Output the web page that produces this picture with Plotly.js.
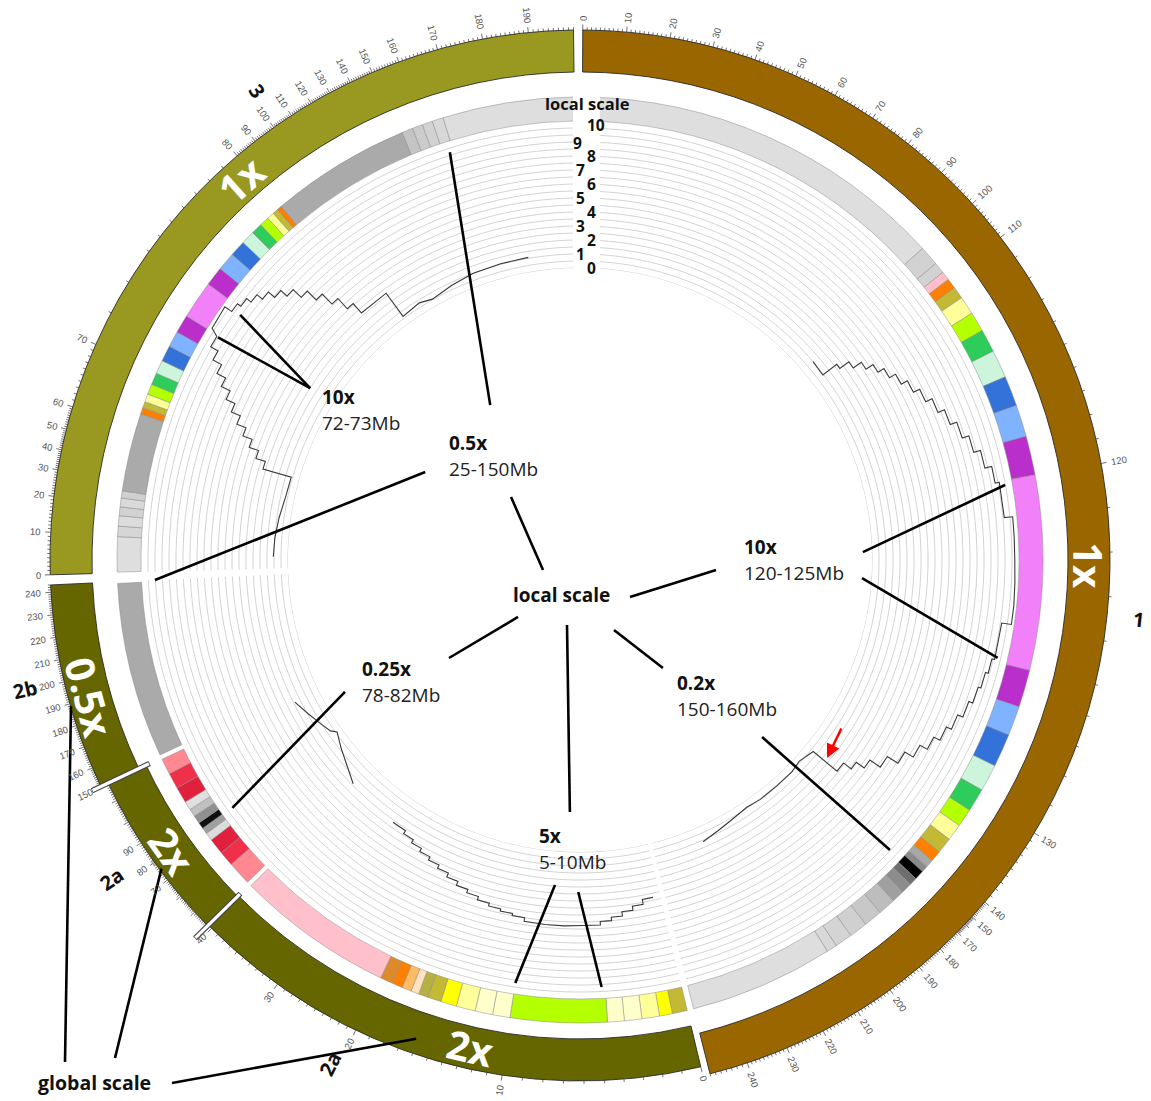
<!DOCTYPE html>
<html><head><meta charset="utf-8">
<script src="https://cdn.plot.ly/plotly-3.0.1.min.js"></script>
<style>html,body{margin:0;padding:0;background:#fff;}#chart{width:1151px;height:1101px;}</style>
</head><body><div id="chart"></div>
<script>
// ======================= DATA =======================
// Ideograms (angles in degrees, clockwise from top)
const ideoNames      = ['1', '2a', '2a', '2b', '3'];
const ideoStartDeg   = [0.3, 166.6, 225.5, 244.7, 268.4];
const ideoEndDeg     = [165.8, 225.5, 244.7, 267.3, 359.3];
const ideoColors     = ['#996600', '#666600', '#666600', '#666600', '#999922'];
const globalScaleTxt = ['1x', '2x', '2x', '0.5x', '1x'];
const globalScaleDeg = [90.6, 192.7, 234.6, 254.5, 318.3];
const breakDeg       = [225.5, 244.7];

// chromosome name labels
const chromLabelText = ['1', '3', '2b', '2a', '2a'];
const chromLabelDeg  = [96.1, 325.5, 256.9, 235.7, 206.4];

// Mb -> angle knots per ideogram (global + local scale)
const chr1Mb  = [0, 110, 120, 125, 130, 140, 150, 160, 170, 180, 190, 200, 210, 220, 230, 240, 247];
const chr1Deg = [0.3, 52.5, 79.5, 103.6, 121.0, 130.2, 132.3, 133.4, 134.6, 137.2, 140.2, 144.2, 148.4, 152.7, 157.0, 161.6, 165.8];
const chr2aAMb  = [0, 5, 10, 20, 30, 40, 41];
const chr2aADeg = [166.6, 177.3, 188.6, 205.5, 215.5, 225.0, 225.5];
const chr2aBMb  = [41, 70, 78, 82, 90, 118];
const chr2aBDeg = [225.5, 232.2, 234.3, 234.9, 237.2, 244.7];
const chr2bMb   = [150, 160, 240, 243];
const chr2bDeg  = [244.7, 246.9, 266.5, 267.3];
const chr3Mb  = [0, 10, 20, 30, 40, 50, 60, 70, 72, 73, 80, 90, 100, 110, 120, 130, 140, 150, 160, 170, 180, 190, 199];
const chr3Deg = [268.4, 273.0, 276.9, 279.8, 282.0, 284.3, 286.8, 294.0, 301.6, 305.6, 319.7, 322.2, 324.7, 327.0, 329.5, 331.8, 334.3, 336.9, 340.0, 344.4, 349.4, 354.4, 359.3];

// labelled ticks (Mb)
const chr1TickLabels  = [0,10,20,30,40,50,60,70,80,90,100,110,120,130,140,150,170,180,190,200,210,220,230,240];
const chr2aATickLabels = [0,10,20,30,40];
const chr2aBTickLabels = [70,80,90];
const chr2bTickLabels  = [150,160,170,180,190,200,210,220,230,240];
const chr3TickLabels  = [0,10,20,30,40,50,60,70,80,90,100,110,120,130,140,150,160,170,180,190];

// cytoband ring: edges (deg) and colours per ideogram
const chr1BandEdges = [0.3,47.7,50.2,51.6,52.7,54.0,55.5,57.8,60.3,63.2,66.7,70.5,74.5,79.4,103.8,108.5,112.2,116.4,119.8,122.7,125.0,127.1,129.1,130.5,131.5,132.3,133.5,134.5,135.8,137.4,139.6,141.9,144.2,146.4,147.7,165.8];
const chr1BandColors = ['#dedede','#d2d2d2','#d2d2d2','#ffc0cb','#ff8000','#c4b935','#ffff99','#b4ff00','#2ecc5a','#ccf5dc','#3272d9','#80b3ff','#ba2fcc','#f280f8','#ba2fcc','#80b3ff','#3272d9','#ccf5dc','#2ecc5a','#b4ff00','#ffff99','#c4b935','#ff8000','#a8a8a8','#8a8a8a','#000000','#6e6e6e','#8c8c8c','#a0a0a0','#bdbdbd','#c8c8c8','#d0d0d0','#d4d4d4','#d8d8d8','#dedede'];
const chr2aABandEdges = [166.6,168.5,170.1,172.3,174.5,176.6,188.7,190.9,193.1,195.5,197.5,199.2,200.4,201.4,202.6,204.0,205.5,225.3];
const chr2aABandColors = ['#c4b935','#ffff00','#ffff99','#ffffcc','#ffffcc','#b4ff00','#ffffcc','#ffffcc','#ffff99','#ffff00','#c4b935','#b8b040','#ffe2c0','#ffbb66','#ff8000','#dd8a2a','#ffc0cb'];
const chr2aBBandEdges = [225.9,228.9,230.8,232.8,233.8,234.6,235.4,236.4,237.4,238.5,240.5,242.5,244.5];
const chr2aBBandColors = ['#ff8891','#f0304a','#e0203c','#dcdcdc','#a0a0a0','#101010','#909090','#c0c0c0','#e0e0e0','#e0203c','#f0304a','#ff8891'];
const chr2bBandEdges = [245.1, 267.1];
const chr2bBandColors = ['#aaaaaa'];
const chr3BandEdges = [268.5,272.9,274.2,275.5,276.6,277.7,278.6,288.4,289.2,290.0,291.0,292.3,293.8,295.5,297.5,299.5,301.8,306.6,309.0,311.3,313.3,315.0,316.4,317.6,318.5,319.2,319.8,337.4,338.8,340.1,341.4,342.8,359.2];
const chr3BandColors = ['#dedede','#d6d6d6','#dcdcdc','#d2d2d2','#dadada','#cfcfcf','#aaaaaa','#ff8000','#c4b935','#ffff99','#b4ff00','#2ecc5a','#ccf5dc','#3272d9','#80b3ff','#ba2fcc','#f280f8','#ba2fcc','#80b3ff','#3272d9','#ccf5dc','#2ecc5a','#b4ff00','#ffff99','#c4b935','#ff8000','#aaaaaa','#c4c4c4','#cccccc','#d2d2d2','#d8d8d8','#dedede'];

// local-scale track (value 0..10)
const trackLevels = [0,0.5,1,1.5,2,2.5,3,3.5,4,4.5,5,5.5,6,6.5,7,7.5,8,8.5,9,9.5,10];
const trackLabels = [0,1,2,3,4,5,6,7,8,9,10];

// chr3 local-scale line
const l3SmoothTheta = [270.6, 274.0, 278.0, 282.0, 286.0];
const l3SmoothVal   = [1.05, 1.0, 0.85, 0.65, 0.6];
const l3UpAngles = [286.0,287.4,288.8,290.2,291.6,293.0,294.4,295.8,297.2,298.6,300.0,301.6];
const l3UpVals   = [2.7,3.4,4.1,4.8,5.5,6.2,6.9,7.6,8.3,9.0,9.6];
const l3PeakTheta = [302.2, 305.5];
const l3PeakVal   = [10.2, 10.3];
const l3DownAngles = [305.5,306.8,308.1,309.4,310.7,312.0,313.3,314.6,315.9,317.2,318.5,324.0];
const l3DownVals   = [9.7,9.4,9.0,8.5,7.9,7.3,6.5,5.6,4.6,3.6,2.7];
const l3TailTheta = [324.0, 328.0, 330.5, 335.0, 339.6, 345.0, 350.3];
const l3TailVal   = [0.65, 0.8, 0.55, 0.8, 1.0, 1.05, 1.07];

// chr1 local-scale line
const l1StartTheta = [49.6, 52.7];
const l1StartVal   = [1.0, 0.95];
const l1UpAngles = [52.7,53.6,54.9,56.3,57.8,59.5,61.3,63.3,65.4,67.6,69.9,72.3,74.7,77.2,79.5,84.3];
const l1UpVals   = [2.2,3.0,3.7,4.3,4.8,5.3,5.8,6.3,6.8,7.3,7.8,8.3,8.8,9.3,9.6];
const l1PlateauTheta = [84.3, 87.0, 90.0, 93.0, 96.0, 98.5];
const l1PlateauVal   = [10.2, 10.2, 10.2, 10.25, 10.3, 10.3];
const l1DownAngles = [98.5,103.5,105.5,107.7,110.0,112.3,114.5,116.6,118.6,120.6,122.6,124.6,126.2,127.6,129.4];
const l1DownVals   = [9.6,9.4,9.2,9.0,8.7,8.3,7.9,7.4,6.8,6.1,5.2,4.3,3.6,2.9];
const l1TailTheta = [129.4, 132.5, 135.0, 139.0, 143.0, 146.0, 150.0, 153.0, 156.4];
const l1TailVal   = [0.7, 0.4, 0.55, 0.55, 0.55, 0.45, 0.65, 0.85, 1.1];

// chr2a (first part) local-scale line
const l2aUpAngles = [167.8,169.6,171.4,173.2,175.0,176.8];
const l2aUpVals   = [3.8,4.15,4.45,4.75,5.0];
const l2aPlateauTheta = [176.8, 179.5, 182.5, 185.5, 188.8];
const l2aPlateauVal   = [5.25, 5.25, 5.3, 5.3, 5.25];
const l2aDownAngles = [188.8,190.8,192.8,194.8,196.8,198.8,200.8,202.8,204.8,206.8,208.8,210.8,212.8,215.5];
const l2aDownVals   = [5.0,4.85,4.7,4.5,4.25,4.0,3.7,3.4,3.15,2.9,2.65,2.4,2.15];

// chr2a (second part) local-scale line
const l2bTheta = [225.4, 228.5, 231.8, 234.7, 235.6, 237.9, 240.5, 243.5];
const l2bVal   = [1.9, 1.35, 0.86, 0.4, 0.75, 1.07, 1.45, 1.9];

// annotation labels (scale regions)
const regionTitles = ['10x', '0.5x', '10x', '0.25x', '0.2x', '5x'];
const regionRanges = ['72-73Mb', '25-150Mb', '120-125Mb', '78-82Mb', '150-160Mb', '5-10Mb'];

// leader lines: [r0, theta0, r1, theta1] in the polar frame
const leaderR0 = [320, 320, 179, 178, 283, 282.6, 254, 326, 332, 269.5, 38.3, 62.2, 77.8, 66.3, 84.2];
const leaderT0 = [302.5, 302.5, 329.9, 299.6, 88.4, 93.7, 134.2, 184.4, 180.3, 240.7, 254.9, 126.5, 154.1, 191.3, 227.4];
const leaderR1 = [419, 425, 428, 425.5, 431.6, 429, 424.5, 428, 427.6, 427, 93.4, 136.4, 136.2, 252.2, 163.6];
const leaderT1 = [305.8, 301.6, 342.3, 267.3, 80.0, 103.2, 133.1, 188.7, 177.1, 234.5, 312.4, 94.2, 142.5, 182.3, 233.2];

// global-scale pointer lines: tips on the ideogram ring
const globalTipR = [529.5, 520.0, 506.0];
const globalTipT = [254.0, 233.6, 198.9];

// red arrow tip (polar)
const arrowTipR = 316.6, arrowTipT = 128.7;

// ======================= LAYOUT CONSTANTS =======================
const W = 1151, H = 1101, CX = 580, CY = 560, R_OUT = 540;
const IDEO_BASE = [488, 479, 480, 488, 488], IDEO_THICK = 42;
const BAND_BASE = 439, BAND_THICK = 24;
const TRACK_R0 = 292, TRACK_PX = 14, TRACK_MAX = 10.6;
const R2 = TRACK_R0 + TRACK_PX * TRACK_MAX;

function toPaper(r, deg) {
  const a = deg * Math.PI / 180;
  return [(CX + r * Math.sin(a)) / W, 1 - (CY - r * Math.cos(a)) / H];
}
function px(x, y) { return [x / W, 1 - y / H]; }
function interp(v, xs, ys) {
  let i = 0;
  while (i < xs.length - 2 && v > xs[i + 1]) i++;
  const t = (v - xs[i]) / (xs[i + 1] - xs[i]);
  return ys[i] + t * (ys[i + 1] - ys[i]);
}
function normAngle(a) {
  a = ((a % 360) + 360) % 360;
  if (a > 180) a -= 360;
  if (a > 95) a -= 180;
  if (a < -95) a += 180;
  return a;
}
function stairs(angles, vals) {
  const t = [], r = [];
  for (let i = 0; i < vals.length; i++) { t.push(angles[i], angles[i + 1]); r.push(vals[i], vals[i]); }
  return [t, r];
}
function join(parts) {
  const t = [], r = [];
  parts.forEach(p => { t.push(...p[0]); r.push(...p[1]); });
  return [t, r];
}

const traces = [];

// ---- ideograms ----
traces.push({
  type: 'barpolar', subplot: 'polar',
  theta: ideoStartDeg.map((s, i) => (s + ideoEndDeg[i]) / 2),
  width: ideoStartDeg.map((s, i) => ideoEndDeg[i] - s),
  base: IDEO_BASE,
  r: ideoStartDeg.map(() => IDEO_THICK),
  marker: { color: ideoColors, line: { color: '#2a2a2a', width: 0.9 } },
  hoverinfo: 'skip'
});

// ---- bands ----
const bandSets = [[chr1BandEdges, chr1BandColors], [chr2aABandEdges, chr2aABandColors], [chr2aBBandEdges, chr2aBBandColors], [chr2bBandEdges, chr2bBandColors], [chr3BandEdges, chr3BandColors]];
const bT = [], bW = [], bC = [];
bandSets.forEach(([e, c]) => { for (let i = 0; i < c.length; i++) { bT.push((e[i] + e[i + 1]) / 2); bW.push(e[i + 1] - e[i]); bC.push(c[i]); } });
traces.push({
  type: 'barpolar', subplot: 'polar', theta: bT, width: bW,
  base: bT.map(() => BAND_BASE), r: bT.map(() => BAND_THICK),
  marker: { color: bC, line: { color: '#8a8a8a', width: 0.5 } }, hoverinfo: 'skip'
});

// ---- tick marks ----
const tickSets = [
  [chr1Mb, chr1Deg, chr1TickLabels],
  [chr2aAMb, chr2aADeg, chr2aATickLabels],
  [chr2aBMb, chr2aBDeg, chr2aBTickLabels],
  [chr2bMb, chr2bDeg, chr2bTickLabels],
  [chr3Mb, chr3Deg, chr3TickLabels]
];
const tkT = [], tkR = [];
const annotations = [];
tickSets.forEach(([mb, deg, labs], k) => {
  const outer = IDEO_BASE[k] + IDEO_THICK;
  const lo = Math.ceil(mb[0]), hi = Math.floor(mb[mb.length - 1]);
  for (let m = lo; m <= hi; m++) {
    const th = interp(m, mb, deg);
    const major = m % 10 === 0;
    tkT.push(th, th, null); tkR.push(outer, outer + (major ? 5.5 : 2.8), null);
  }
  labs.forEach(m => {
    const th = interp(m, mb, deg);
    const s = String(m);
    const p = toPaper(outer + 9 + s.length * 2.9, th);
    annotations.push({ x: p[0], y: p[1], xref: 'paper', yref: 'paper', text: s, showarrow: false,
      textangle: normAngle(th - 90), xanchor: 'center', yanchor: 'middle',
      font: { family: 'Liberation Sans, Arial, sans-serif', size: 9.5, color: '#555' } });
  });
});
traces.push({ type: 'scatterpolar', subplot: 'polar', mode: 'lines', theta: tkT, r: tkR,
  line: { color: '#333', width: 0.7 }, cliponaxis: false, hoverinfo: 'skip' });

// ---- break markers ----
breakDeg.forEach(d => {
  traces.push({ type: 'scatterpolar', subplot: 'polar', mode: 'lines', theta: [d, d], r: [476, 540],
    line: { color: '#444', width: 5.5 }, cliponaxis: false, hoverinfo: 'skip' });
  traces.push({ type: 'scatterpolar', subplot: 'polar', mode: 'lines', theta: [d, d], r: [476.8, 539.2],
    line: { color: '#ffffff', width: 3.2 }, cliponaxis: false, hoverinfo: 'skip' });
});

// ---- track grid (polar2) ----
const gT = [], gR = [];
trackLevels.forEach(v => {
  ideoStartDeg.forEach((s, i) => {
    const e = ideoEndDeg[i];
    for (let a = s; a < e; a += 0.5) { gT.push(a); gR.push(v); }
    gT.push(e); gR.push(v); gT.push(null); gR.push(null);
  });
});
traces.push({ type: 'scatterpolar', subplot: 'polar2', mode: 'lines', theta: gT, r: gR,
  line: { color: '#d2d2d2', width: 1 }, hoverinfo: 'skip' });

// ---- local scale lines (polar2) ----
const lineParts = [
  join([[l3SmoothTheta, l3SmoothVal], stairs(l3UpAngles, l3UpVals), [l3PeakTheta, l3PeakVal], stairs(l3DownAngles, l3DownVals), [l3TailTheta, l3TailVal]]),
  join([[l1StartTheta, l1StartVal], stairs(l1UpAngles, l1UpVals), [l1PlateauTheta, l1PlateauVal], stairs(l1DownAngles, l1DownVals), [l1TailTheta, l1TailVal]]),
  join([stairs(l2aUpAngles, l2aUpVals), [l2aPlateauTheta, l2aPlateauVal], stairs(l2aDownAngles, l2aDownVals)]),
  [l2bTheta, l2bVal]
];
lineParts.forEach(p => traces.push({ type: 'scatterpolar', subplot: 'polar2', mode: 'lines', theta: p[0], r: p[1],
  line: { color: '#3a3a3a', width: 1.1 }, cliponaxis: false, hoverinfo: 'skip' }));

// ---- leader lines (polar3) ----
const lT = [], lR = [];
leaderR0.forEach((r0, i) => { lT.push(leaderT0[i], leaderT1[i], null); lR.push(r0, leaderR1[i], null); });
traces.push({ type: 'scatterpolar', subplot: 'polar3', mode: 'lines', theta: lT, r: lR,
  line: { color: '#000', width: 2.6 }, hoverinfo: 'skip' });

// ---- text annotations ----
const FONT = 'Open Sans, Liberation Sans, sans-serif';
// global scale labels inside ideograms
const ideoOfScale = [0, 1, 2, 3, 4];
globalScaleTxt.forEach((t, i) => {
  const k = ideoOfScale[i];
  const p = toPaper(IDEO_BASE[k] + IDEO_THICK / 2, globalScaleDeg[i]);
  annotations.push({ x: p[0], y: p[1], xref: 'paper', yref: 'paper', text: '<b>' + t + '</b>', showarrow: false,
    textangle: normAngle(globalScaleDeg[i]), xanchor: 'center', yanchor: 'middle',
    font: { family: FONT, size: 40, color: '#ffffff' } });
});
// chromosome names
const chromLabelR = [562, 570, 570, 566, 562];
chromLabelText.forEach((t, i) => {
  const p = toPaper(chromLabelR[i], chromLabelDeg[i]);
  annotations.push({ x: p[0], y: p[1], xref: 'paper', yref: 'paper', text: '<b>' + t + '</b>', showarrow: false,
    textangle: normAngle(chromLabelDeg[i] - 90), xanchor: 'center', yanchor: 'middle',
    font: { family: FONT, size: 20, color: '#111' } });
});
// region labels
const regionPos = [[320, 397], [447, 443], [742, 547], [360, 669], [675, 683], [537, 836]];
regionTitles.forEach((t, i) => {
  const [x, y] = regionPos[i];
  const p1 = px(x, y), p2 = px(x, y + 26);
  annotations.push({ x: p1[0], y: p1[1], xref: 'paper', yref: 'paper', text: '<b>' + t + '</b>', showarrow: false,
    xanchor: 'left', yanchor: 'middle', font: { family: FONT, size: 19, color: '#111' } });
  annotations.push({ x: p2[0], y: p2[1], xref: 'paper', yref: 'paper', text: regionRanges[i], showarrow: false,
    xanchor: 'left', yanchor: 'middle', font: { family: FONT, size: 19, color: '#222' } });
});
// central and top "local scale"
[[561, 595, 19], [587, 104, 16.5]].forEach(([x, y, s]) => {
  const p = px(x, y);
  annotations.push({ x: p[0], y: p[1], xref: 'paper', yref: 'paper', text: '<b>local scale</b>', showarrow: false,
    xanchor: 'center', yanchor: 'middle', font: { family: FONT, size: s, color: '#111' } });
});
// track value labels
const trackLabelDx = [11, 0, 11, 0, 11, 0, 11, 0, 11, -2, 16];
const trackLabelDy = [0, 0, 0, 0, 0, 0, 0, 0, 0, 1, -3];
trackLabels.forEach((v, i) => {
  const y = CY - (TRACK_R0 + TRACK_PX * v) + trackLabelDy[i];
  const x = 580 + trackLabelDx[i];
  const p = px(x, y);
  annotations.push({ x: p[0], y: p[1], xref: 'paper', yref: 'paper', text: '<b>' + v + '</b>', showarrow: false,
    xanchor: 'center', yanchor: 'middle', font: { family: FONT, size: 15.5, color: '#111' } });
});
// global scale label
{
  const p = px(95, 1082);
  annotations.push({ x: p[0], y: p[1], xref: 'paper', yref: 'paper', text: '<b>global scale</b>', showarrow: false,
    xanchor: 'center', yanchor: 'middle', font: { family: FONT, size: 19.5, color: '#111' } });
}
// red arrow
{
  const p = toPaper(arrowTipR, arrowTipT);
  annotations.push({ x: p[0], y: p[1], xref: 'paper', yref: 'paper', text: '', showarrow: true,
    ax: 15, ay: -31, arrowcolor: '#ff0000', arrowwidth: 2.5, arrowhead: 2, arrowsize: 1.1, standoff: 0 });
}

// shapes: global-scale pointer lines + label column mask
const globalTails = [[65, 1062], [115, 1058], [172, 1083]];
const shapes = globalTails.map((t, i) => {
  const a = px(t[0], t[1]), b = toPaper(globalTipR[i], globalTipT[i]);
  return { type: 'line', xref: 'paper', yref: 'paper', x0: a[0], y0: a[1], x1: b[0], y1: b[1], line: { color: '#000', width: 2.6 }, layer: 'above' };
});
{
  const a = px(573, 275), b = px(600, 95);
  shapes.push({ type: 'rect', xref: 'paper', yref: 'paper', x0: a[0], y0: a[1], x1: b[0], y1: b[1], fillcolor: '#ffffff', line: { width: 0 }, layer: 'above' });
}

const hiddenAng = { rotation: 90, direction: 'clockwise', visible: false, showgrid: false, showline: false, ticks: '', showticklabels: false };
const polarDom = { x: [(CX - R_OUT) / W, (CX + R_OUT) / W], y: [1 - (CY + R_OUT) / H, 1 - (CY - R_OUT) / H] };
const polar2Dom = { x: [(CX - R2) / W, (CX + R2) / W], y: [1 - (CY + R2) / H, 1 - (CY - R2) / H] };

const layout = {
  width: W, height: H, margin: { l: 0, r: 0, t: 0, b: 0 }, showlegend: false,
  paper_bgcolor: '#ffffff',
  polar: { domain: polarDom, bgcolor: 'rgba(0,0,0,0)', angularaxis: hiddenAng,
    radialaxis: { range: [0, R_OUT], visible: false, showgrid: false, showline: false, ticks: '', showticklabels: false } },
  polar2: { domain: polar2Dom, hole: TRACK_R0 / R2, bgcolor: 'rgba(0,0,0,0)', angularaxis: hiddenAng,
    radialaxis: { range: [0, TRACK_MAX], visible: false, showgrid: false, showline: false, ticks: '', showticklabels: false } },
  polar3: { domain: polarDom, bgcolor: 'rgba(0,0,0,0)', angularaxis: hiddenAng,
    radialaxis: { range: [0, R_OUT], visible: false, showgrid: false, showline: false, ticks: '', showticklabels: false } },
  annotations: annotations,
  shapes: shapes
};

Plotly.newPlot('chart', traces, layout, { staticPlot: true, displayModeBar: false });
</script>
</body></html>
